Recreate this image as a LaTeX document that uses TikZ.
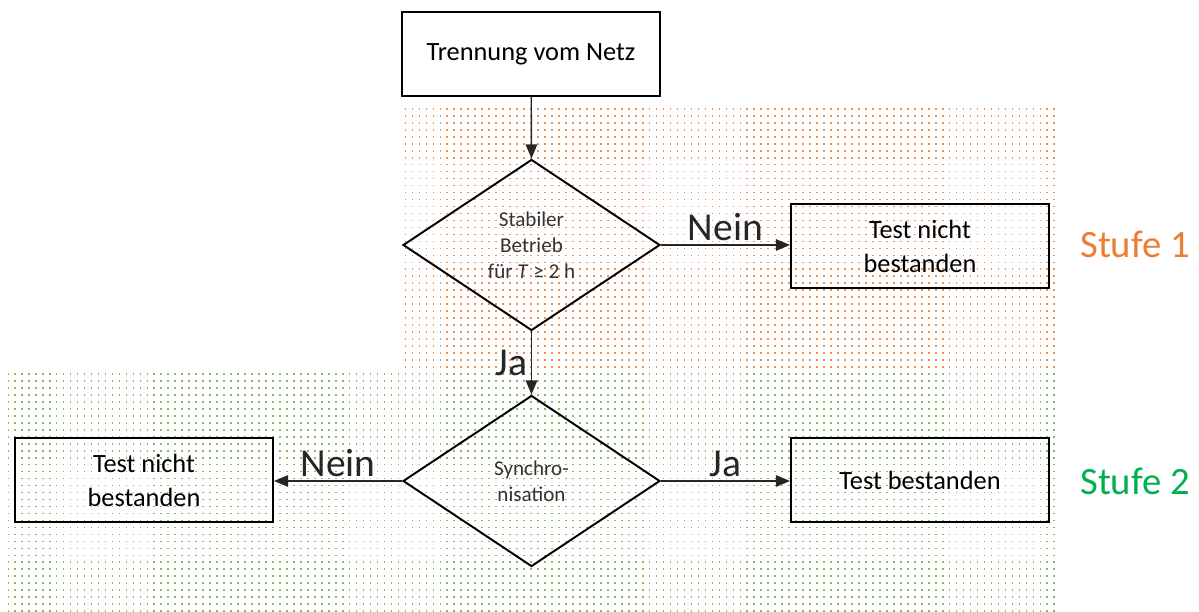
\documentclass[tikz,border=0pt]{standalone}
\usepackage{fontspec}
\setmainfont{Carlito}
\usetikzlibrary{shapes.geometric,arrows.meta,patterns.meta}

\definecolor{stufeorange}{HTML}{ED7D31}
\definecolor{stufegreen}{HTML}{00B050}
\definecolor{dotgreen}{HTML}{70AD47}

% sparse square dots for the two stages
\tikzdeclarepattern{
  name=stufendots,
  type=uncolored,
  bottom left={(-0.5pt,-0.5pt)},
  top right={(3.5pt,3.5pt)},
  tile size={(3.97pt,3.97pt)},
  code={\fill (0pt,0pt) rectangle (0.95pt,0.95pt);}
}

\begin{document}
\begin{tikzpicture}[
    kasten/.style={draw, line width=1.1pt, minimum width=5.16cm, minimum height=1.68cm,
      align=center, font=\fontsize{15}{19.3}\selectfont},
    raute/.style={draw, diamond, line width=1.1pt, minimum width=5.14cm, minimum height=3.42cm,
      inner sep=0pt, align=center, text=black!80, font=\fontsize{12}{14.8}\selectfont},
    pfeil/.style={-{Triangle[length=8pt,width=6.5pt]}, line width=0.8pt, black!85},
    antwort/.style={font=\fontsize{22.5}{26}\selectfont, inner sep=2pt},
    stufe/.style={font=\fontsize{22}{26}\selectfont}
  ]
			\useasboundingbox (0,0) rectangle (23.98,12.24);
			% Stufe 1 and Stufe 2 backgrounds
			\fill[pattern=stufendots, pattern color=stufeorange!85] (8.06,4.78) rectangle (21.16,10.14);
			\fill[pattern=stufendots, pattern color=dotgreen!85] (0.16,0) rectangle (21.16,4.78);
			% boxes and decisions
			\node[kasten] (netz) at (10.62,11.16) {Trennung vom Netz};
			\node[raute] (betrieb) at (10.63,7.34) {Stabiler\\Betrieb\\für \textit{T} ≥ 2 h};
			\node[kasten] (fail1) at (18.4,7.32) {Test nicht\\bestanden};
			\node[raute] (sync) at (10.63,2.62) {Synchro-\\nisation};
			\node[kasten] (fail2) at (2.88,2.64) {Test nicht\\bestanden};
			\node[kasten] (pass) at (18.4,2.64) {Test bestanden};
			% arrows
			\draw[pfeil] (netz) -- (betrieb.north);
			\draw[pfeil] (betrieb.east) -- node[antwort, above] {Nein} (fail1.west |- betrieb.east);
			\draw[pfeil] (betrieb.south) -- node[antwort, left] {Ja} (sync.north);
			\draw[pfeil] (sync.west) -- node[antwort, above] {Nein} (fail2.east |- sync.west);
			\draw[pfeil] (sync.east) -- node[antwort, above] {Ja} (pass.west |- sync.east);
			% stage labels
			\node[stufe, text=stufeorange] (stufe1) at (22.7,7.36) {Stufe 1};
			\node[stufe, text=stufegreen] (stufe2) at (22.7,2.62) {Stufe 2};
\end{tikzpicture}
\end{document}
